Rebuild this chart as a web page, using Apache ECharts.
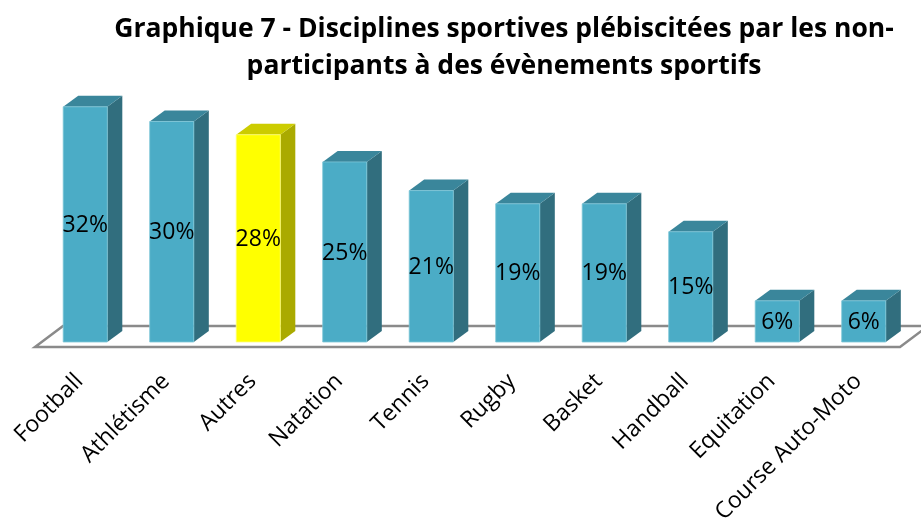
<!DOCTYPE html>
<html>
<head>
<meta charset="utf-8">
<script src="https://cdn.jsdelivr.net/npm/echarts@6/dist/echarts.min.js"></script>
<style>html,body{margin:0;padding:0;background:#fff;}#c{width:921px;height:519px;}</style>
</head>
<body>
<div id="c"></div>
<script>
const categories = ['Football', 'Athlétisme', 'Autres', 'Natation', 'Tennis', 'Rugby', 'Basket', 'Handball', 'Equitation', 'Course Auto-Moto'];
const values = [32, 30, 28.2, 24.5, 20.6, 18.8, 18.8, 15, 5.6, 5.6];
const highlighted = 'Autres';
const titleText = 'Graphique 7 - Disciplines sportives plébiscitées par les non-\nparticipants à des évènements sportifs';

const chart = echarts.init(document.getElementById('c'), null, {renderer: 'canvas'});
const DX = 15, DY = -11;
const blue = {front: '#4BACC6', top: '#3A869B', side: '#316E7E', edge: '#7FC6D8'};
const yellow = {front: '#FFFF00', top: '#CCCC00', side: '#AAAA00', edge: '#FFFF80'};

function renderFloor(params, api) {
  const cs = params.coordSys;
  const b = cs.y + cs.height;
  const l = cs.x, r = cs.x + cs.width;
  return {
    type: 'polygon',
    shape: {points: [[l - 7, b + 5], [r - 7, b + 5], [r + 21, b - 16], [l + 21, b - 16]]},
    style: {fill: '#ffffff', stroke: '#8a8a8a', lineWidth: 2.5},
    silent: true
  };
}

function renderBar(params, api) {
  const i = api.value(0);
  const v = api.value(1);
  const t = api.coord([i, v]);
  const b = api.coord([i, 0]);
  const bw = api.size([1, 0])[0] * 0.51;
  const x0 = t[0] - bw / 2, x1 = t[0] + bw / 2;
  const yt = t[1], yb = b[1];
  const c = categories[i] === highlighted ? yellow : blue;
  return {
    type: 'group',
    children: [
      {type: 'polygon', shape: {points: [[x1, yt], [x1 + DX, yt + DY], [x1 + DX, yb + DY], [x1, yb]]}, style: {fill: c.side}},
      {type: 'polygon', shape: {points: [[x0, yt], [x0 + DX, yt + DY], [x1 + DX, yt + DY], [x1, yt]]}, style: {fill: c.top}},
      {type: 'rect', shape: {x: x0, y: yt, width: bw, height: yb - yt}, style: {fill: c.front, stroke: c.edge, lineWidth: 0.8}},
      {type: 'text', x: t[0], y: (yt + yb) / 2 + 1, style: {text: Math.round(v) + '%', fill: '#000', font: '23px "Open Sans"', align: 'center', verticalAlign: 'middle'}}
    ]
  };
}

chart.setOption({
  animation: false,
  backgroundColor: '#ffffff',
  title: {
    text: titleText,
    left: 499,
    top: 6,
    textAlign: 'center',
    textStyle: {fontFamily: 'Open Sans', fontWeight: 'bold', fontSize: 26.5, lineHeight: 37, color: '#000'}
  },
  grid: {left: 42, right: 14, top: 48, bottom: 177, containLabel: false, outerBoundsMode: 'none'},
  xAxis: {
    type: 'category',
    data: categories,
    axisLine: {show: false},
    axisTick: {show: false},
    axisLabel: {rotate: 45, margin: 30, padding: [0, 8, 0, 0], fontSize: 23, fontFamily: 'Open Sans', color: '#000', interval: 0}
  },
  yAxis: {type: 'value', min: 0, max: 40, show: false, splitLine: {show: false}},
  series: [
    {type: 'custom', renderItem: renderFloor, data: [[0, 0]], encode: {x: 0, y: 1}, z: 1, silent: true},
    {type: 'custom', renderItem: renderBar, data: values.map((v, i) => [i, v]), encode: {x: 0, y: 1}, z: 2}
  ]
});
</script>
</body>
</html>
